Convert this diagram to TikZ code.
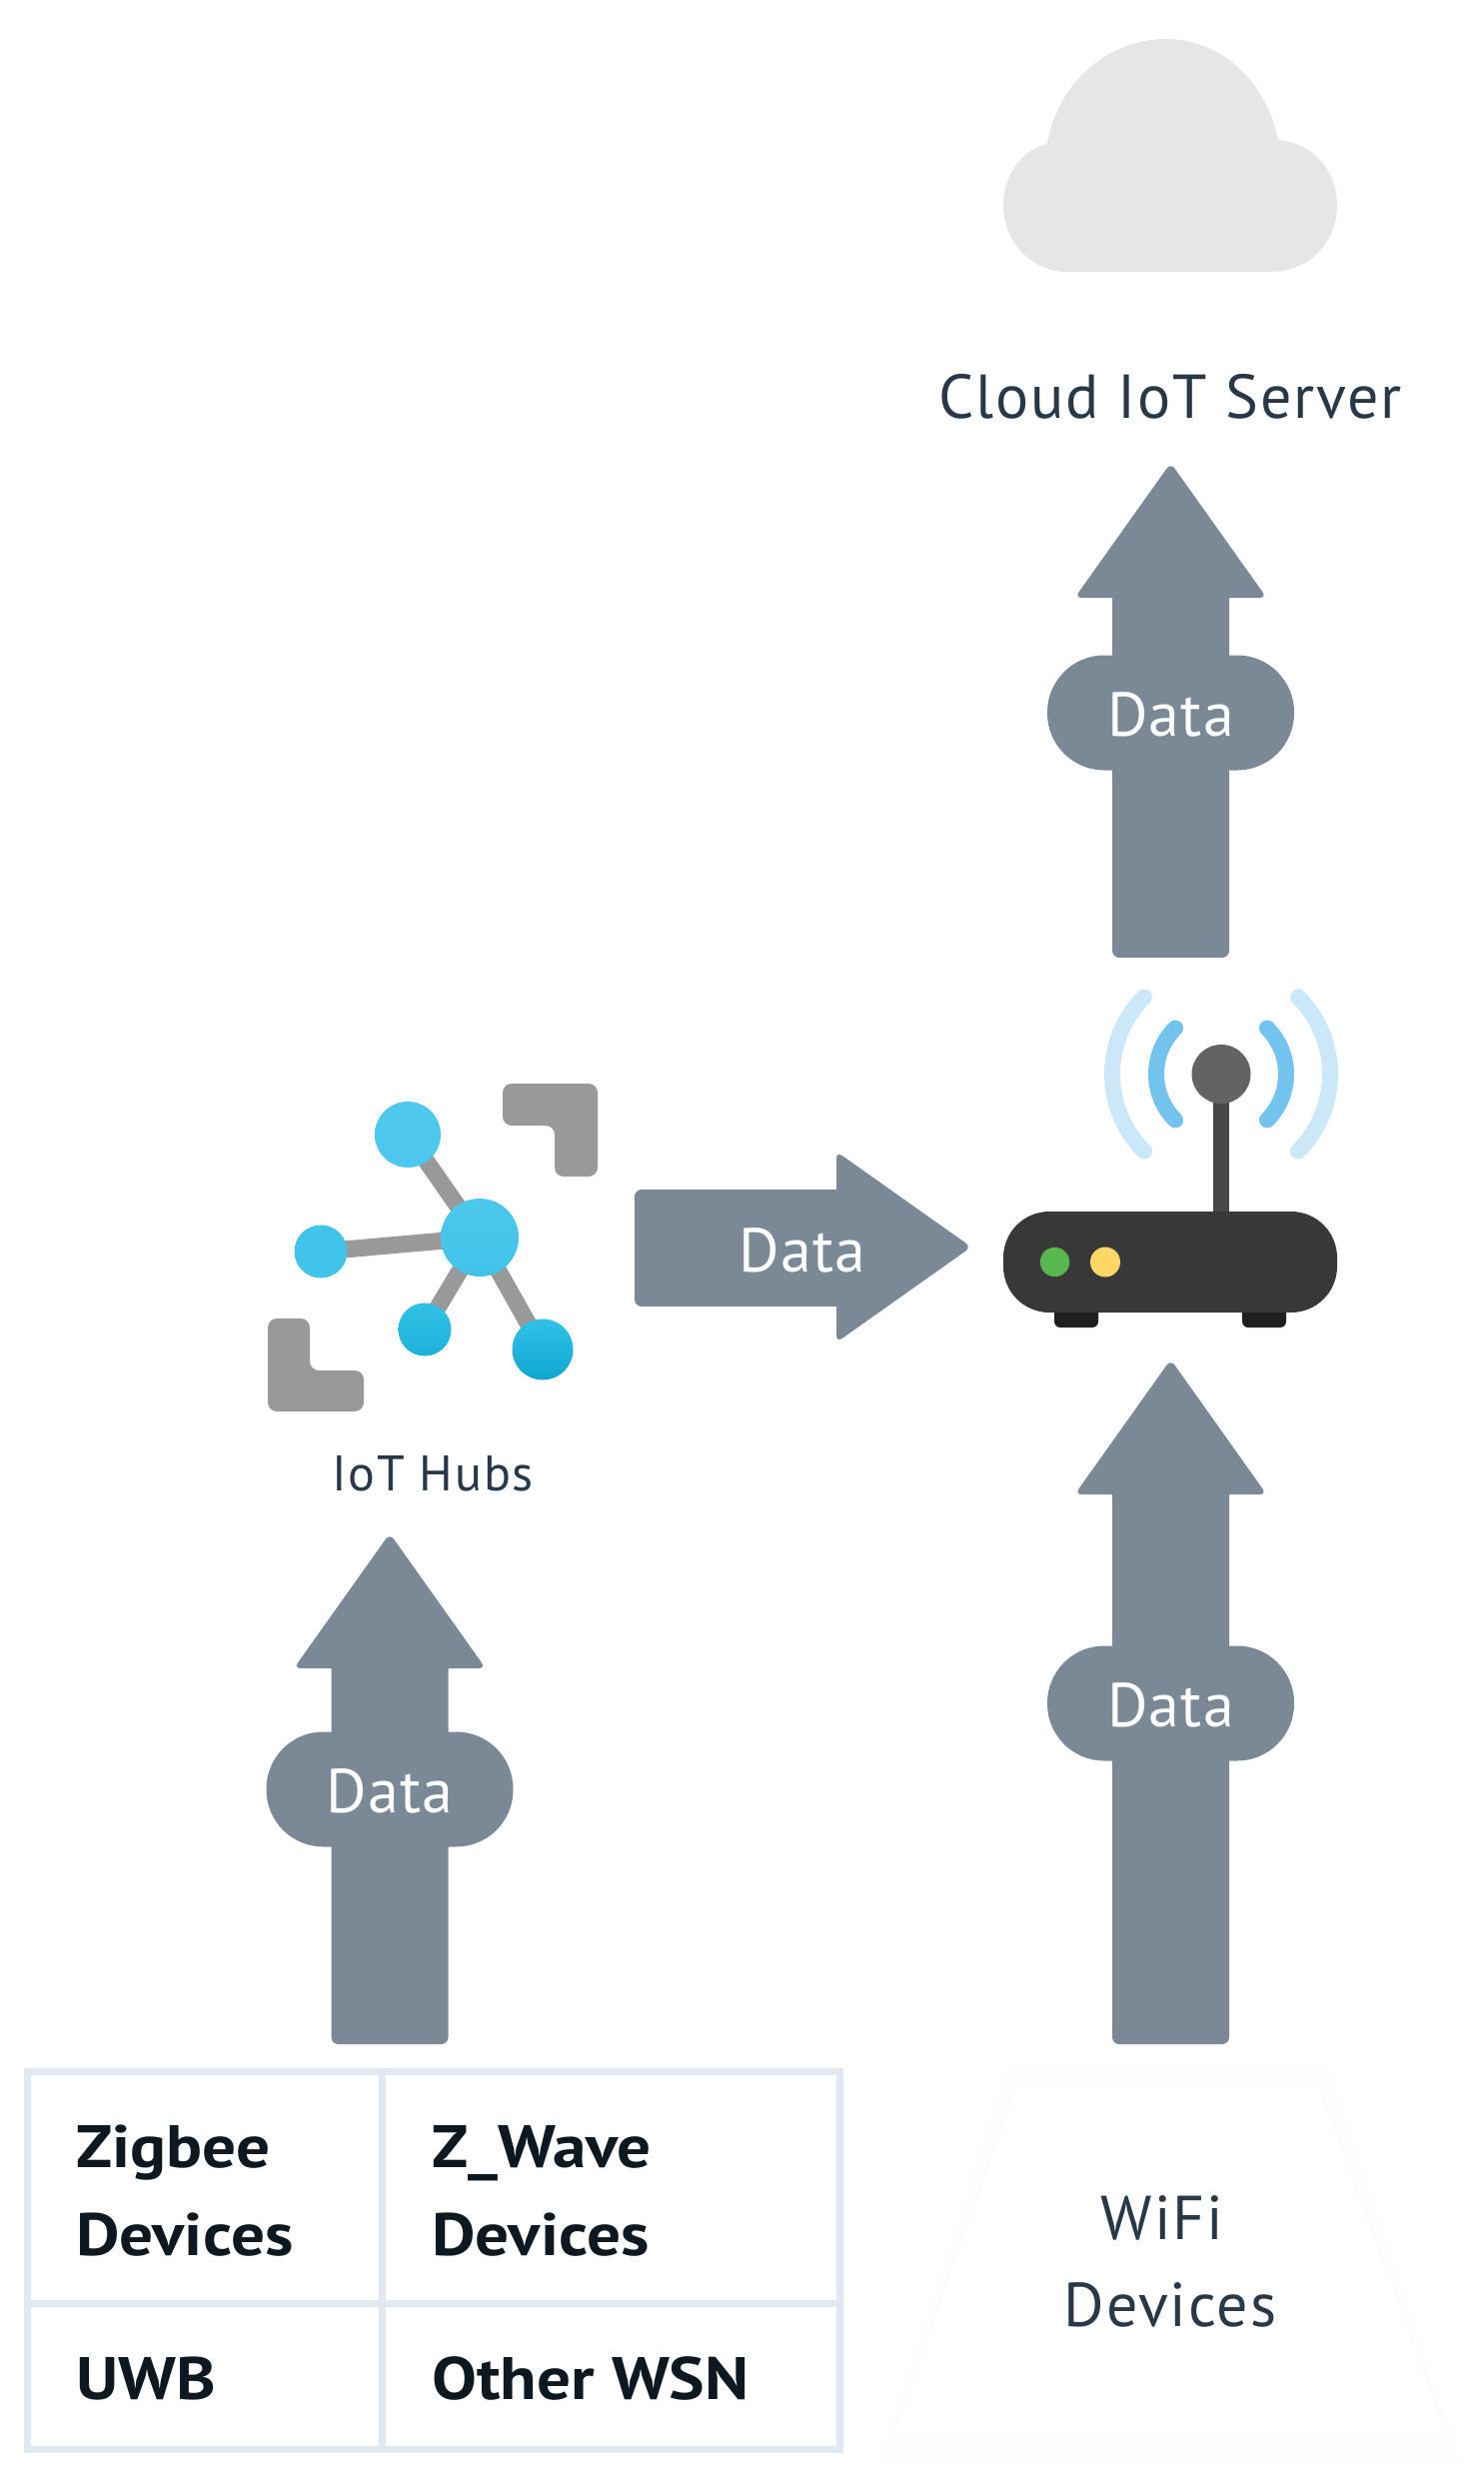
\documentclass[tikz,border=0pt]{standalone}
\usepackage{fontspec}
\setmainfont{PT Sans}
\usetikzlibrary{calc,positioning}
\definecolor{ArrowSlate}{HTML}{7B8997}
\definecolor{LabelInk}{HTML}{283848}
\definecolor{TableInk}{HTML}{0E1820}
\definecolor{GridLine}{HTML}{E2E8F0}
\definecolor{CloudGrey}{HTML}{E5E6E8}
\definecolor{HubGrey}{HTML}{999999}
\definecolor{HubSkyA}{HTML}{50C8EE}
\definecolor{HubSkyB}{HTML}{4CC7ED}
\definecolor{HubSkyC}{HTML}{42C3EA}
\definecolor{HubSkyD}{HTML}{32C1E6}
\definecolor{HubSkyE}{HTML}{1EB1D8}
\definecolor{HubSkyF}{HTML}{10A8D2}
\definecolor{WaveOuter}{HTML}{CBE8F9}
\definecolor{WaveInner}{HTML}{72C4EF}
\definecolor{RouterStem}{HTML}{464847}
\definecolor{RouterBall}{HTML}{636462}
\definecolor{RouterBody}{HTML}{383838}
\definecolor{RouterFoot}{HTML}{1F1F1F}
\definecolor{LedGreen}{HTML}{56B84F}
\definecolor{LedYellow}{HTML}{FFD766}
\tikzset{
  datafont/.style={font=\fontsize{62}{62}\selectfont\addfontfeature{LetterSpace=2}},
  datapill/.style={datafont,fill=ArrowSlate,text=white,rounded corners=57pt,minimum width=247pt,minimum height=115pt,inner sep=0pt,text height=46pt,text depth=0pt},
  shaftpart/.style={fill=ArrowSlate,rounded corners=7pt},
  labeltext/.style={text=LabelInk,anchor=base,inner sep=0pt},
  tabletext/.style={text=TableInk,anchor=base west,inner sep=0pt,font=\fontsize{60}{60}\selectfont\bfseries\addfontfeature{FakeStretch=1.12}},
  wavearc/.style={line width=16pt},
}
\begin{document}
\begin{tikzpicture}[x=1pt,y=-1pt,line cap=round,line join=round]
  \useasboundingbox (0,0) rectangle (1484,2478);
  % cloud
  \fill[CloudGrey] (1048,144) .. controls (1058,82) and (1110,39) .. (1166,39) .. controls (1225,39) and (1268,85) .. (1279,140)
    .. controls (1315,143) and (1338,172) .. (1338,205) .. controls (1338,242) and (1310,272) .. (1272,272) -- (1068,272)
    .. controls (1032,272) and (1004,242) .. (1004,205) .. controls (1004,176) and (1022,150) .. (1048,144) -- cycle;
  \node[labeltext,font=\fontsize{62}{62}\selectfont\addfontfeature{LetterSpace=3}] (cloudlabel) at (1171,418) {Cloud IoT Server};
  % up arrows
  \foreach \ax/\ay/\by/\py/\nm in {1171.5/463/958/713/pilltop,1171.5/1360/2045/1704/pillwifi,390/1534/2045/1790/pillhub}{
    \fill[shaftpart] (\ax,\ay) -- (\ax+96,\ay+135) -- (\ax-96,\ay+135) -- cycle;
    \fill[shaftpart] (\ax-58.5,\ay+100) rectangle (\ax+58.5,\by);
    \node[datapill] (\nm) at (\ax,\py) {Data};
  }
  % right arrow
  \fill[shaftpart] (972,1247.5) -- (837,1152) -- (837,1343) -- cycle;
  \fill[shaftpart] (635,1190) rectangle (870,1307);
  \node[datafont,text=white,inner sep=0pt,anchor=base] (datahub) at (803,1272.5) {Data};
  % hub icon
  \fill[HubGrey,rounded corners=9pt] (503,1084) -- (598,1084) -- (598,1177) -- (555,1177) -- (555,1126) -- (503,1126) -- cycle;
  \fill[HubGrey,rounded corners=9pt] (268,1319) -- (310,1319) -- (310,1371) -- (364,1371) -- (364,1412) -- (268,1412) -- cycle;
  \coordinate (hubC) at (480,1238);\coordinate (hubT) at (408,1135);\coordinate (hubL) at (321,1252);\coordinate (hubB) at (425,1330);\coordinate (hubR) at (543,1350);
  \draw[HubGrey,line width=17pt,line cap=butt] (hubC)--(hubT) (hubC)--(hubL) (hubC)--(hubB) (hubC)--(hubR);
  \shade[top color=HubSkyA,bottom color=HubSkyB] (hubT) circle (33pt);
  \shade[top color=HubSkyB,bottom color=HubSkyC] (hubC) circle (39pt);
  \fill[HubSkyC] (hubL) circle (26.5pt);
  \shade[top color=HubSkyD,bottom color=HubSkyE] (hubB) circle (26.5pt);
  \shade[top color=HubSkyD,bottom color=HubSkyF] (hubR) circle (30.5pt);
  \node[labeltext,font=\fontsize{50}{50}\selectfont\addfontfeature{LetterSpace=3.6}] (hublabel) at (433,1491) {IoT Hubs};
  % router
  \draw[wavearc,WaveOuter] ([shift={(1222,1074.5)}]135:109pt) arc[start angle=135,end angle=225,radius=109pt];
  \draw[wavearc,WaveOuter] ([shift={(1222,1074.5)}]45:109pt) arc[start angle=45,end angle=-45,radius=109pt];
  \draw[wavearc,WaveInner] ([shift={(1222,1074.5)}]135:65pt) arc[start angle=135,end angle=225,radius=65pt];
  \draw[wavearc,WaveInner] ([shift={(1222,1074.5)}]45:65pt) arc[start angle=45,end angle=-45,radius=65pt];
  \fill[RouterStem] (1214,1090) rectangle (1230,1215);
  \fill[RouterBall] (1222,1074.5) circle (29.5pt);
  \fill[RouterFoot,rounded corners=6pt] (1055,1300) rectangle (1099,1328);
  \fill[RouterFoot,rounded corners=6pt] (1243,1300) rectangle (1287,1328);
  \fill[RouterBody,rounded corners=46pt] (1004,1212) rectangle (1338,1313);
  \fill[LedGreen] (1055.5,1262.5) circle (14.7pt);
  \fill[LedYellow] (1106,1262.5) circle (15pt);
  % device table
  \draw[GridLine,line width=7pt,line cap=butt,line join=miter] (27.5,2072.5) rectangle (840,2450.5) (382,2072.5)--(382,2450.5) (27.5,2304.5)--(840,2304.5);
  \node[tabletext] (zigbee) at (76,2168) {Zigbee};
  \node[tabletext] (zigbeedev) at (76,2256) {Devices};
  \node[tabletext] (zwave) at (432,2168) {Z\_Wave};
  \node[tabletext] (zwavedev) at (432,2256) {Devices};
  \node[tabletext] (uwb) at (76,2400) {UWB};
  \node[tabletext] (otherwsn) at (432,2400) {Other WSN};
  % wifi devices
  \fill[black!.4] (1008,2064) -- (1330,2064) -- (1464,2464) -- (880,2464) -- cycle;
  \fill[black!.8] (1012,2076) -- (1325,2076) -- (1456,2448) -- (886,2448) -- cycle;
  \fill[white,draw=black!2,line width=1pt,rounded corners=5pt] (1017,2087) -- (1320,2087) -- (1448,2435) -- (894,2435) -- cycle;
  \node[labeltext,font=\fontsize{62}{62}\selectfont\addfontfeature{LetterSpace=3}] (wifi) at (1163,2240) {WiFi};
  \node[labeltext,font=\fontsize{62}{62}\selectfont\addfontfeature{LetterSpace=3}] (wifidev) at (1171,2327) {Devices};
\end{tikzpicture}
\end{document}
